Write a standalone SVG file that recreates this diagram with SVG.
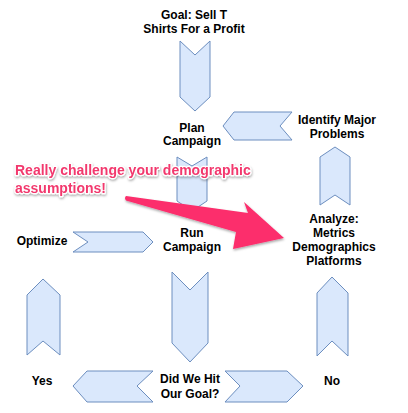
<svg xmlns="http://www.w3.org/2000/svg" width="408" height="413" viewBox="0 0 408 413">
<defs>
<style>
.arr{fill:#dae8fc;stroke:#6c8ebf;stroke-width:1;stroke-linejoin:miter}
.lbl{font-family:"Liberation Sans",Arial,sans-serif;font-weight:bold;font-size:12px;fill:#000;text-anchor:middle}
.note{font-family:"Liberation Sans",Arial,sans-serif;font-weight:bold;font-size:14px;fill:#f2386d;stroke:#fff;stroke-width:2.5;paint-order:stroke;stroke-linejoin:round}
</style>
<filter id="sh" x="-10%" y="-20%" width="120%" height="150%">
<feDropShadow dx="0.5" dy="1.5" stdDeviation="1" flood-color="#000" flood-opacity="0.35"/>
</filter>
</defs>
<rect width="408" height="413" fill="#fff"/>
<g id="connectors">
<polygon class="arr" points="180,41 195,55 210,41 210,97 195,111 180,97"/>
<polygon class="arr" points="177,157 192,166 207,157 207,201 192,211 177,201"/>
<polygon class="arr" points="172,272 190,290 208,272 208,343 190,362 172,343"/>
<polygon class="arr" points="320,157 335,147 350,157 350,205 335,195 320,205"/>
<polygon class="arr" points="27,295 43,279 60,295 60,355 43,341 27,355"/>
<polygon class="arr" points="317,293 332,277 348,293 348,356 332,341 317,356"/>
<polygon class="arr" points="234,112 292,112 280,126 292,140 234,140 223,126"/>
<polygon class="arr" points="87,371 153,371 137,386 153,402 87,402 73,386"/>
<polygon class="arr" points="73,232 143,232 153,242 143,252 73,252 88,242"/>
<polygon class="arr" points="225,371 287,371 303,386 287,402 225,402 240,386"/>
</g>
<g id="goal"><text class="lbl" x="194" y="19">Goal: Sell T</text><text class="lbl" x="194" y="33">Shirts For a Profit</text></g>
<g id="plan"><text class="lbl" x="192" y="132">Plan</text><text class="lbl" x="192" y="145">Campaign</text></g>
<g id="identify"><text class="lbl" x="337" y="124">Identify Major</text><text class="lbl" x="337" y="138">Problems</text></g>
<g id="run"><text class="lbl" x="192" y="237">Run</text><text class="lbl" x="192" y="251">Campaign</text></g>
<g id="optimize"><text class="lbl" x="42" y="245">Optimize</text></g>
<g id="analyze"><text class="lbl" x="334" y="223">Analyze:</text><text class="lbl" x="334" y="237">Metrics</text><text class="lbl" x="334" y="251">Demographics</text><text class="lbl" x="334" y="265">Platforms</text></g>
<g id="yes"><text class="lbl" x="42" y="385">Yes</text></g>
<g id="did"><text class="lbl" x="190" y="383">Did We Hit</text><text class="lbl" x="190" y="398">Our Goal?</text></g>
<g id="no"><text class="lbl" x="332" y="385">No</text></g>
<g id="annotation" filter="url(#sh)">
<path fill="#fc2d6c" d="M126,196 L248,213 L244,202 L284,238 L233,249 L236,232 L126,200.5 Q124,198.2 126,196 Z"/>
<text class="note" x="15" y="175">Really challenge your demographic</text>
<text class="note" x="15" y="193">assumptions!</text>
</g>
</svg>
